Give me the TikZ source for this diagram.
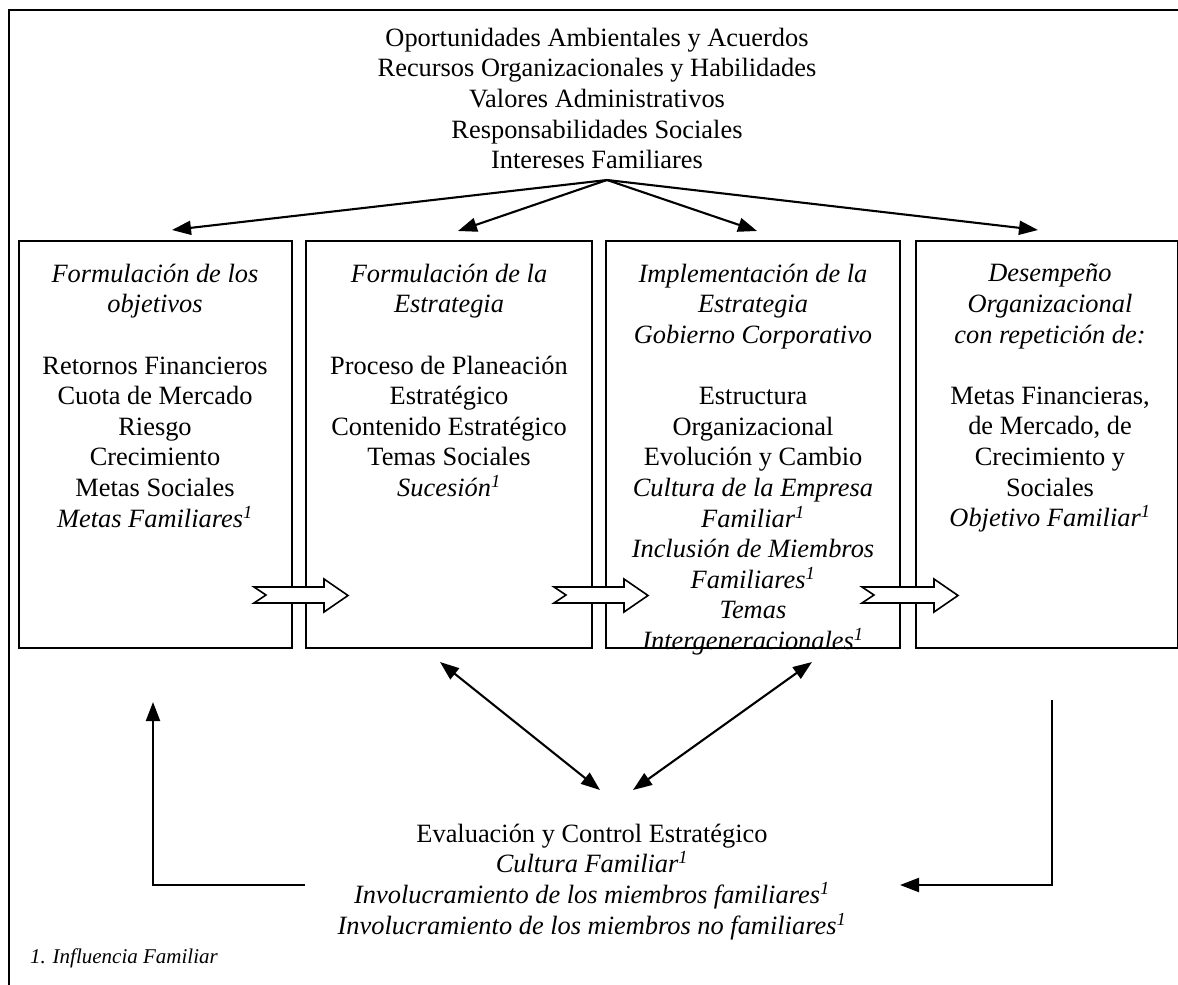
\documentclass[tikz,border=0pt]{standalone}
\usepackage{fontspec}
\setmainfont{Liberation Serif}
\usetikzlibrary{arrows.meta}
\newcommand\famsup{\textsuperscript{1}}
\begin{document}
\begin{tikzpicture}[x=1pt,y=-1pt,
  every node/.style={inner sep=0pt, outer sep=0pt},
  txt/.style={align=center, font=\fontsize{26.4pt}{30.6pt}\selectfont},
  stagebox/.style={draw, line width=1.8pt, minimum height=407pt},
  link/.style={line width=2.1pt, -{Triangle[length=19pt,width=14pt]}},
  dlink/.style={line width=2.1pt, {Triangle[length=19pt,width=14pt]}-{Triangle[length=19pt,width=14pt]}},
  hollow/.style={draw, line width=1.6pt, fill=white, line join=miter}]
\useasboundingbox (0,0) rectangle (1178,985);

% outer frame (open on the right and at the bottom)
\draw[line width=2pt] (1182,10) -- (9,10) -- (9,990);

% inputs
\node[txt, anchor=north] (top) at (597,28) {Oportunidades Ambientales y Acuerdos\\
  Recursos Organizacionales y Habilidades\\ Valores Administrativos\\
  Responsabilidades Sociales\\ Intereses Familiares};

% the four stages
\node[stagebox, minimum width=273pt] (b1) at (155.5,444.5) {};
\node[stagebox, minimum width=286pt] (b2) at (449,444.5) {};
\node[stagebox, minimum width=294pt] (b3) at (753,444.5) {};
\node[stagebox, minimum width=262pt] (b4) at (1047,444.5) {};

\node[txt, anchor=north] (t1) at (155,264) {\textit{Formulación de los}\\ \textit{objetivos}\\[30.6pt]
  Retornos Financieros\\ Cuota de Mercado\\ Riesgo\\ Crecimiento\\ Metas Sociales\\
  \textit{Metas Familiares\famsup}};
\node[txt, anchor=north] (t2) at (449,264) {\textit{Formulación de la}\\ \textit{Estrategia}\\[30.6pt]
  Proceso de Planeación\\ Estratégico\\ Contenido Estratégico\\ Temas Sociales\\
  \textit{Sucesión\famsup}};
\node[txt, anchor=north] (t3) at (753,264) {\textit{Implementación de la}\\ \textit{Estrategia}\\
  \textit{Gobierno Corporativo}\\[30.6pt]
  Estructura\\ Organizacional\\ Evolución y Cambio\\ \textit{Cultura de la Empresa}\\
  \textit{Familiar\famsup}\\ \textit{Inclusión de Miembros}\\ \textit{Familiares\famsup}\\
  \textit{Temas}\\ \textit{Intergeneracionales\famsup}};
\node[txt, anchor=north] (t4) at (1050,264) {\textit{Desempeño}\\ \textit{Organizacional}\\
  \textit{con repetición de:}\\[30.6pt]
  Metas Financieras,\\ de Mercado, de\\ Crecimiento y\\ Sociales\\
  \textit{Objetivo Familiar\famsup}};

% hollow arrows between consecutive stages
\foreach \l/\r in {292/306, 592/606, 900/916}{
  \draw[hollow] (\l-38,587) -- (\r+18,587) -- (\r+18,579) -- (\r+42,595.5)
    -- (\r+18,612) -- (\r+18,603) -- (\l-38,603) -- (\l-26,595) -- cycle;
}

% arrows from the inputs to each stage
\coordinate (apex) at (607,180);
\coordinate (a1) at (172,230);
\coordinate (a2) at (458,231);
\coordinate (a3) at (757,231);
\coordinate (a4) at (1038,230);
\foreach \t in {a1,a2,a3,a4}{ \draw[link] (apex) -- (\t); }

% evaluation and control
\node[txt, anchor=north] (ev) at (592,824) {Evaluación y Control Estratégico\\
  \textit{Cultura Familiar\famsup}\\
  \textit{Involucramiento de los miembros familiares\famsup}\\
  \textit{Involucramiento de los miembros no familiares\famsup}};

\coordinate (dl1) at (440,662);
\coordinate (dl2) at (600,790);
\coordinate (dr1) at (812,662);
\coordinate (dr2) at (633,790);
\draw[dlink] (dl1) -- (dl2);
\draw[dlink] (dr1) -- (dr2);

% feedback loops
\coordinate (fbL) at (305,885);
\coordinate (upL) at (153,702);
\draw[link] (fbL) -| (upL);
\coordinate (dnR) at (1052,700);
\coordinate (fbR) at (900,885);
\draw[link] (dnR) |- (fbR);

% footnote
\node[font=\fontsize{21pt}{24pt}\selectfont\itshape, anchor=base west] (fn) at (30,963) {1. Influencia Familiar};
\end{tikzpicture}
\end{document}
